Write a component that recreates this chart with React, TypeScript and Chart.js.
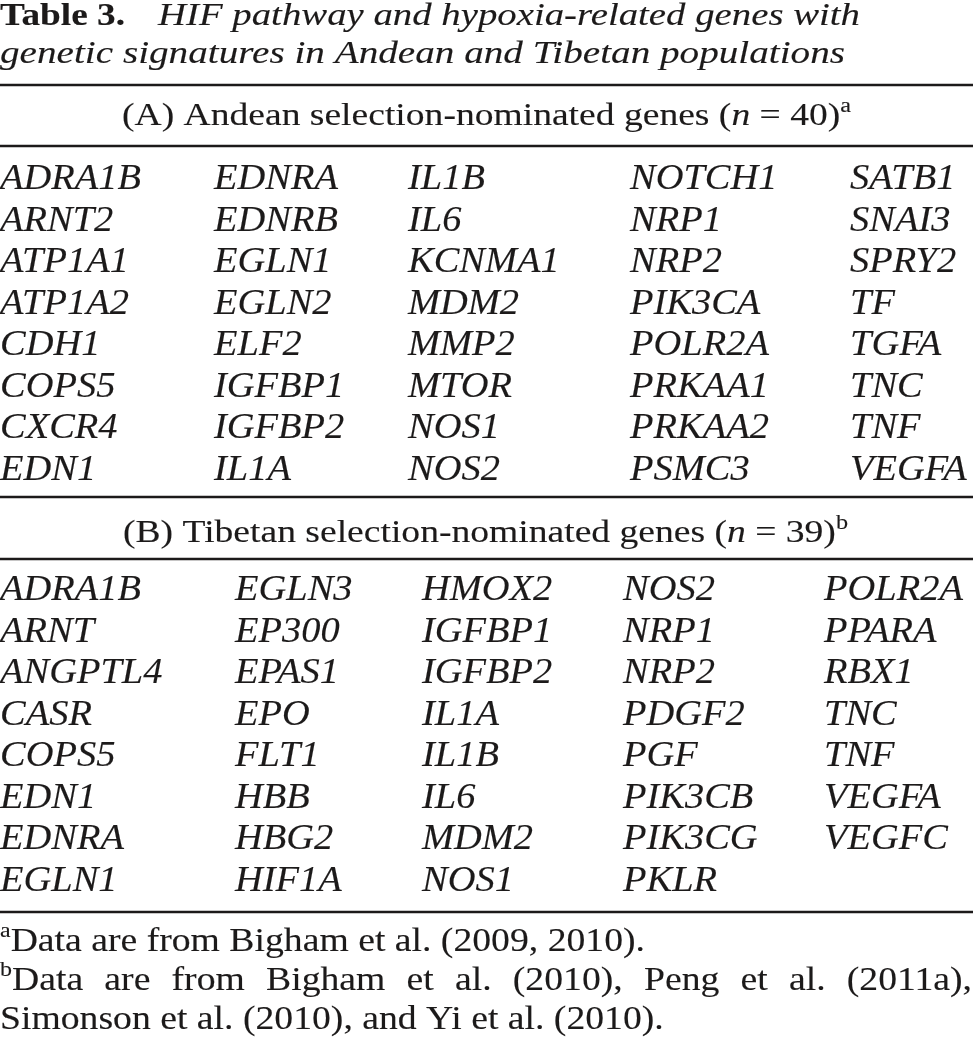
import React, { useEffect, useRef } from "react";
import { Chart, registerables } from "chart.js";

Chart.register(...registerables);

// ---------- DATA ----------
const andeanGenes = [
  "ADRA1B", "ARNT2", "ATP1A1", "ATP1A2", "CDH1", "COPS5", "CXCR4", "EDN1",
  "EDNRA", "EDNRB", "EGLN1", "EGLN2", "ELF2", "IGFBP1", "IGFBP2", "IL1A",
  "IL1B", "IL6", "KCNMA1", "MDM2", "MMP2", "MTOR", "NOS1", "NOS2",
  "NOTCH1", "NRP1", "NRP2", "PIK3CA", "POLR2A", "PRKAA1", "PRKAA2", "PSMC3",
  "SATB1", "SNAI3", "SPRY2", "TF", "TGFA", "TNC", "TNF", "VEGFA",
];
const tibetanGenes = [
  "ADRA1B", "ARNT", "ANGPTL4", "CASR", "COPS5", "EDN1", "EDNRA", "EGLN1",
  "EGLN3", "EP300", "EPAS1", "EPO", "FLT1", "HBB", "HBG2", "HIF1A",
  "HMOX2", "IGFBP1", "IGFBP2", "IL1A", "IL1B", "IL6", "MDM2", "NOS1",
  "NOS2", "NRP1", "NRP2", "PDGF2", "PGF", "PIK3CB", "PIK3CG", "PKLR",
  "POLR2A", "PPARA", "RBX1", "TNC", "TNF", "VEGFA", "VEGFC",
];
const titleLabel = "Table 3.";
const titleLine1 = "HIF pathway and hypoxia-related genes with";
const titleLine2 = "genetic signatures in Andean and Tibetan populations";
const headerAText = ["(A) Andean selection-nominated genes (", "n", " = 40)", "a"];
const headerBText = ["(B) Tibetan selection-nominated genes (", "n", " = 39)", "b"];
const footnoteA = ["a", "Data are from Bigham et al. (2009, 2010)."];
const footnoteB1 = ["b", "Data are from Bigham et al. (2010), Peng et al. (2011a),"];
const footnoteB2 = "Simonson et al. (2010), and Yi et al. (2010).";

// ---------- LAYOUT ----------
const W = 973;
const H = 1040;
const ROWS = 8;
const colXA = [0, 214, 408, 630, 850];
const colXB = [0, 235, 422, 623, 824];
const rowA0 = 189;
const rowB0 = 600;
const rowStep = 41.5;
const rules = [85, 146, 497, 559, 912];
const FONT = "'Liberation Serif', serif";
const INK = "#1c1a1a";
const geneSize = 35;
const geneRefWidth = 141; // width of "ADRA1B" in reference

type Run = [string, string];

function fontFor(style: string, size: number) {
  if (style === "b") return `bold ${size}px ${FONT}`;
  if (style === "i") return `italic ${size}px ${FONT}`;
  if (style === "sup") return `${Math.round(size * 0.65)}px ${FONT}`;
  return `${size}px ${FONT}`;
}

function naturalWidth(ctx: CanvasRenderingContext2D, runs: Run[], size: number) {
  let w = 0;
  for (const [st, t] of runs) {
    ctx.font = fontFor(st, size);
    w += ctx.measureText(t).width;
  }
  return w;
}

function paint(ctx: CanvasRenderingContext2D, t: string, x: number, y: number) {
  ctx.fillText(t, x, y);
  ctx.strokeText(t, x, y);
}

function drawRuns(
  ctx: CanvasRenderingContext2D,
  runs: Run[],
  x: number,
  y: number,
  size: number,
  sx: number,
  gap = 0
) {
  ctx.save();
  ctx.translate(x, y);
  ctx.scale(sx, 1);
  ctx.strokeStyle = INK;
  ctx.lineWidth = 0.12;
  let cx = 0;
  for (const [st, t] of runs) {
    ctx.font = fontFor(st, size);
    const dy = st === "sup" ? -size * 0.42 : 0;
    if (gap === 0) {
      paint(ctx, t, cx, dy);
      cx += ctx.measureText(t).width;
    } else {
      const parts = t.split(" ");
      parts.forEach((p, i) => {
        paint(ctx, p, cx, dy);
        cx += ctx.measureText(p).width;
        if (i < parts.length - 1) cx += ctx.measureText(" ").width + gap / sx;
      });
    }
  }
  ctx.restore();
}

function fitRuns(
  ctx: CanvasRenderingContext2D,
  runs: Run[],
  x0: number,
  x1: number,
  y: number,
  size: number
) {
  const nw = naturalWidth(ctx, runs, size);
  const sx = (x1 - x0) / nw;
  drawRuns(ctx, runs, x0, y, size, sx);
  return sx;
}

const textPlugin = {
  id: "tableText",
  afterDatasetsDraw(chart: any) {
    const ctx: CanvasRenderingContext2D = chart.ctx;
    const xs = chart.scales.x;
    const ys = chart.scales.y;
    const px = (v: number) => xs.getPixelForValue(v);
    const py = (v: number) => ys.getPixelForValue(v);
    ctx.save();
    ctx.fillStyle = INK;
    ctx.textBaseline = "alphabetic";
    ctx.textAlign = "left";

    // Title
    fitRuns(ctx, [["b", titleLabel]], px(0), px(125), py(25), 32);
    fitRuns(ctx, [["i", titleLine1]], px(158), px(860), py(25), 32);
    fitRuns(ctx, [["i", titleLine2]], px(0), px(845), py(63), 32);

    // Headers
    const hdr = (h: string[]): Run[] => [["r", h[0]], ["i", h[1]], ["r", h[2]], ["sup", h[3]]];
    fitRuns(ctx, hdr(headerAText), px(122), px(851), py(125), 31);
    fitRuns(ctx, hdr(headerBText), px(123), px(848), py(542), 31);

    // Genes
    ctx.font = fontFor("i", geneSize);
    const gsx = geneRefWidth / ctx.measureText("ADRA1B").width;
    [0, 1].forEach((di) => {
      const meta = chart.getDatasetMeta(di);
      const ds = chart.data.datasets[di];
      meta.data.forEach((el: any, i: number) => {
        drawRuns(ctx, [["i", ds.data[i].gene]], el.x, el.y, geneSize, gsx);
      });
    });

    // Footnotes
    const fs = 33;
    const fa: Run[] = [["sup", footnoteA[0]], ["r", footnoteA[1]]];
    const fsx = fitRuns(ctx, fa, px(0), px(645), py(951), fs);
    const fb: Run[] = [["sup", footnoteB1[0]], ["r", footnoteB1[1]]];
    const nw = naturalWidth(ctx, fb, fs) * fsx;
    const nSpaces = footnoteB1[1].split(" ").length - 1;
    const gap = (px(972) - px(0) - nw) / nSpaces;
    drawRuns(ctx, fb, px(0), py(990), fs, fsx, gap);
    drawRuns(ctx, [["r", footnoteB2]], px(0), py(1029), fs, fsx);
    ctx.restore();
  },
};

export default function App() {
  const ref = useRef<HTMLCanvasElement | null>(null);
  useEffect(() => {
    document.body.style.margin = "0";
    const canvas = ref.current;
    if (!canvas) return;
    const andeanPts = andeanGenes.map((g, i) => ({
      x: colXA[Math.floor(i / ROWS)],
      y: rowA0 + (i % ROWS) * rowStep,
      gene: g,
    }));
    const tibetanPts = tibetanGenes.map((g, i) => ({
      x: colXB[Math.floor(i / ROWS)],
      y: rowB0 + (i % ROWS) * rowStep,
      gene: g,
    }));
    const ruleSets = rules.map((r) => ({
      label: "rule",
      data: [{ x: 0, y: r }, { x: W, y: r }],
      showLine: true,
      borderColor: INK,
      borderWidth: 2.5,
      pointRadius: 0,
      clip: false as any,
    }));
    const chart = new Chart(canvas, {
      type: "scatter",
      data: {
        datasets: [
          { label: "Andean", data: andeanPts as any, pointRadius: 0 },
          { label: "Tibetan", data: tibetanPts as any, pointRadius: 0 },
          ...(ruleSets as any),
        ],
      },
      options: {
        animation: false,
        responsive: false,
        events: [],
        layout: { padding: 0 },
        plugins: { legend: { display: false }, tooltip: { enabled: false } },
        scales: {
          x: { type: "linear", min: 0, max: W, display: false },
          y: { type: "linear", min: 0, max: H, reverse: true, display: false },
        },
      },
      plugins: [textPlugin],
    });
    return () => chart.destroy();
  }, []);
  return (
    <canvas
      ref={ref}
      width={W}
      height={H}
      style={{ display: "block", width: W, height: H, background: "#fff" }}
    />
  );
}
